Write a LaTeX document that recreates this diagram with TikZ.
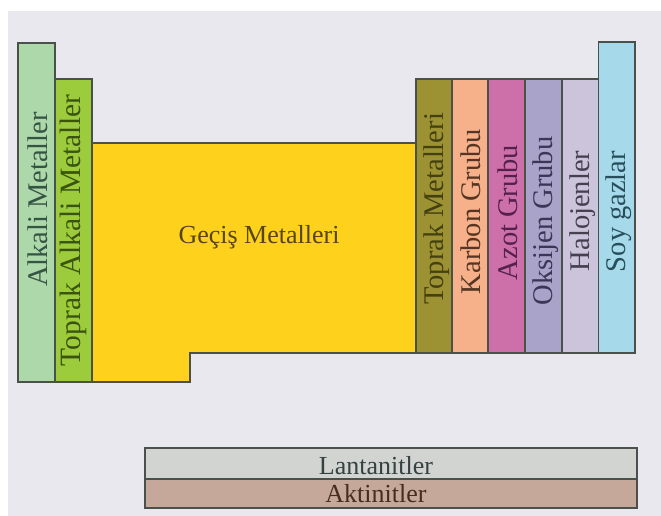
\documentclass[tikz,border=0pt]{standalone}
\usepackage{fontspec}
\setmainfont{Liberation Serif}
\definecolor{bg}{HTML}{E9E8EE}
\definecolor{edge}{HTML}{4A514B}
\definecolor{alkF}{HTML}{ACD8AA}\definecolor{alkT}{HTML}{365444}
\definecolor{takF}{HTML}{9CCB3B}\definecolor{takT}{HTML}{3A5410}
\definecolor{gecF}{HTML}{FDD11C}\definecolor{gecT}{HTML}{574510}
\definecolor{tmF}{HTML}{9C9233}\definecolor{tmT}{HTML}{444010}
\definecolor{karF}{HTML}{F6B08A}\definecolor{karT}{HTML}{563622}
\definecolor{azoF}{HTML}{CD70A9}\definecolor{azoT}{HTML}{54204C}
\definecolor{oksF}{HTML}{A9A2C9}\definecolor{oksT}{HTML}{3A3656}
\definecolor{halF}{HTML}{CBC4DA}\definecolor{halT}{HTML}{444050}
\definecolor{soyF}{HTML}{A6DAEA}\definecolor{soyT}{HTML}{284E5C}
\definecolor{lanF}{HTML}{D2D4D2}\definecolor{lanT}{HTML}{344242}
\definecolor{aktF}{HTML}{C5A899}\definecolor{aktT}{HTML}{452E20}
\begin{document}
\begin{tikzpicture}[x=1pt,y=-1pt,
  blk/.style={draw=edge, line width=1.3pt, line join=miter},
  lbl/.style={font=\fontsize{26}{30}\selectfont, inner sep=0pt, anchor=base},
  vlbl/.style={font=\fontsize{28.5}{32}\selectfont, inner sep=0pt, anchor=base, rotate=90}]
\useasboundingbox (0,0) rectangle (661,516);
\fill[white] (0,0) rectangle (661,516);
\fill[bg] (8,11) rectangle (661,516);
% transition metals
\path[blk, fill=gecF] (92,143) -- (416,143) -- (416,353) -- (190,353) -- (190,382) -- (92,382) -- cycle;
% left columns
\path[blk, fill=alkF] (18,43) rectangle (55,382);
\path[blk, fill=takF] (55,79) rectangle (92,382);
% right columns
\path[blk, fill=tmF]  (416,79) rectangle (452,353);
\path[blk, fill=karF] (452,79) rectangle (488,353);
\path[blk, fill=azoF] (488,79) rectangle (525,353);
\path[blk, fill=oksF] (525,79) rectangle (562,353);
\path[blk, fill=halF] (562,79) rectangle (598.5,353);
\path[blk, fill=soyF] (598.5,42) rectangle (635,353);
% f-block
\path[blk, fill=lanF] (145,448) rectangle (637,479);
\path[blk, fill=aktF] (145,479) rectangle (637,508);
% labels
\node[vlbl, text=alkT] (alk) at (47.5,199.5) {Alkali Metaller};
\node[vlbl, text=takT, font=\fontsize{29.5}{33}\selectfont] (tak) at (80.5,230.5) {Toprak Alkali Metaller};
\node[lbl, text=gecT] (gec) at (259,243) {Geçiş Metalleri};
\node[vlbl, text=tmT]  (tm)  at (443,209) {Toprak Metalleri};
\node[vlbl, text=karT] (kar) at (480,211.5) {Karbon Grubu};
\node[vlbl, text=azoT] (azo) at (517.5,212.5) {Azot Grubu};
\node[vlbl, text=oksT] (oks) at (552,221) {Oksijen Grubu};
\node[vlbl, text=halT] (hal) at (589,211) {Halojenler};
\node[vlbl, text=soyT] (soy) at (625,211.5) {Soy gazlar};
\node[lbl, text=lanT] (lan) at (376,474) {Lantanitler};
\node[lbl, text=aktT] (akt) at (376,502.5) {Aktinitler};
\end{tikzpicture}
\end{document}
